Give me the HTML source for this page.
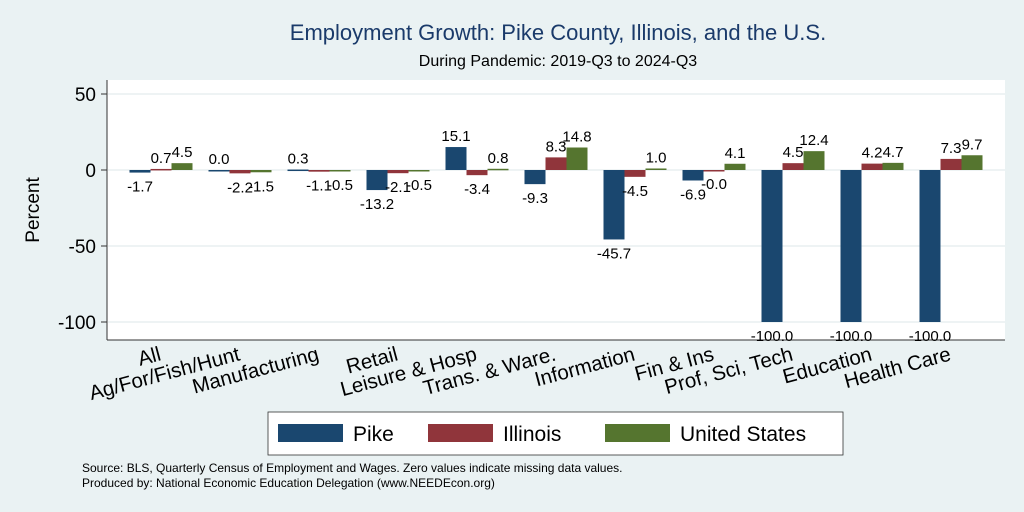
<!DOCTYPE html>
<html><head><meta charset="utf-8"><style>
body{margin:0;background:#eaf2f3;}
svg{display:block;font-family:"Liberation Sans",sans-serif;}
</style></head><body>
<svg id="chart" width="1024" height="512" viewBox="0 0 1024 512">
<rect x="0" y="0" width="1024" height="512" fill="#eaf2f3"/>
<text x="558" y="40" font-size="22" fill="#1a3a6a" text-anchor="middle">Employment Growth: Pike County, Illinois, and the U.S.</text>
<text x="558" y="66" font-size="16" text-anchor="middle">During Pandemic: 2019-Q3 to 2024-Q3</text>
<rect x="107" y="80" width="898" height="260" fill="#fff"/>
<line x1="107" y1="80" x2="107" y2="340" stroke="#333" stroke-width="1"/>
<line x1="107" y1="340" x2="1005" y2="340" stroke="#333" stroke-width="1"/>
<g id="grid"></g><g id="bars"></g><g id="labels"></g>
<text transform="translate(39,210) rotate(-90)" font-size="19" text-anchor="middle">Percent</text>
<g>
<rect x="268" y="412" width="575" height="43" fill="#fff" stroke="#333" stroke-width="0.8"/>
<rect x="278" y="424" width="65" height="18" fill="#1a476f"/>
<text x="353" y="441" font-size="21">Pike</text>
<rect x="428" y="424" width="65" height="18" fill="#90353b"/>
<text x="503" y="441" font-size="21">Illinois</text>
<rect x="605" y="424" width="65" height="18" fill="#55752f"/>
<text x="680" y="441" font-size="21">United States</text>
</g>
<text x="82" y="472" font-size="12">Source: BLS, Quarterly Census of Employment and Wages. Zero values indicate missing data values.</text>
<text x="82" y="487" font-size="12">Produced by: National Economic Education Delegation (www.NEEDEcon.org)</text>
</svg>
<script>
const categories=["All","Ag/For/Fish/Hunt","Manufacturing","Retail","Leisure & Hosp","Trans. & Ware.","Information","Fin & Ins","Prof, Sci, Tech","Education","Health Care"];
const pike=[-1.7,0.0,0.3,-13.2,15.1,-9.3,-45.7,-6.9,-100,-100,-100];
const illinois=[0.7,-2.2,-1.1,-2.1,-3.4,8.3,-4.5,-0.0,4.5,4.2,7.3];
const us=[4.5,-1.5,-0.5,-0.5,0.8,14.8,1.0,4.1,12.4,4.7,9.7];
const yTicks=[50,0,-50,-100];
const NS="http://www.w3.org/2000/svg";
const y=v=>170-v*1.52;
const cx=i=>161+i*79;
const bw=21;
function mk(t,a,p){const e=document.createElementNS(NS,t);for(const k in a)e.setAttribute(k,a[k]);p.appendChild(e);return e;}
const grid=document.getElementById('grid'),bars=document.getElementById('bars'),labels=document.getElementById('labels');
yTicks.forEach(t=>{
 const l=mk('line',{x1:108,x2:1005,y1:y(t),y2:y(t),stroke:'#e4ecee','stroke-width':1.2},grid);
 
 
 mk('line',{x1:101,x2:107,y1:y(t),y2:y(t),stroke:'#333'},grid);
 const tx=mk('text',{x:96,y:y(t)+7,'font-size':19,'text-anchor':'end'},grid);
 tx.textContent=t;
 
 
});
const series=[[pike,'#1a476f',-1,'pike'],[illinois,'#90353b',0,'illinois'],[us,'#55752f',1,'us']];
categories.forEach((c,i)=>{
 series.forEach(([d,col,off,nm])=>{
  const v=d[i],x=cx(i)+off*bw-bw/2;
  const r=mk('rect',{x:x,y:Math.min(y(v),y(0)),width:bw,height:Math.max(Math.abs(y(v)-y(0)),1.5),fill:col},bars);
  
  
  const neg=v<0||Object.is(v,-0);
  const t=mk('text',{x:x+bw/2,y:neg?y(v)+19:y(v)-6,'font-size':15,'text-anchor':'middle'},labels);
  t.textContent=(Object.is(v,-0)?'-0.0':v.toFixed(1));
  
  
 });
 const t=mk('text',{transform:`translate(${cx(i)+1},${360}) rotate(-15)`,'font-size':20.5,'text-anchor':'end'},labels);
 t.textContent=c;
 
 
});
</script>
</body></html>
